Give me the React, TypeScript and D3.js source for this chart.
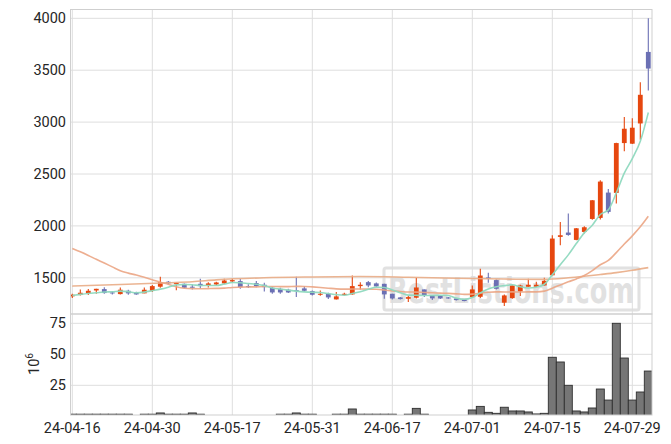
import React from 'react';
import * as d3 from 'd3';

const dates = [
  '24-04-16','24-04-17','24-04-18','24-04-19','24-04-22','24-04-23','24-04-24','24-04-25','24-04-26','24-04-29','24-04-30',
  '24-05-02','24-05-03','24-05-07','24-05-08','24-05-09','24-05-10','24-05-13','24-05-14','24-05-16','24-05-17',
  '24-05-20','24-05-21','24-05-22','24-05-23','24-05-24','24-05-27','24-05-28','24-05-29','24-05-30','24-05-31',
  '24-06-03','24-06-04','24-06-05','24-06-07','24-06-10','24-06-11','24-06-12','24-06-13','24-06-14','24-06-17',
  '24-06-18','24-06-19','24-06-20','24-06-21','24-06-24','24-06-25','24-06-26','24-06-27','24-06-28','24-07-01',
  '24-07-02','24-07-03','24-07-04','24-07-05','24-07-08','24-07-09','24-07-10','24-07-11','24-07-12','24-07-15',
  '24-07-16','24-07-17','24-07-18','24-07-19','24-07-22','24-07-23','24-07-24','24-07-25','24-07-26','24-07-29',
  '24-07-30','24-07-31'
];

const opens = [
  1321,1334,1350,1378,1391,1359,1343,1375,1362,1350,1375,1414,1462,1439,1442,1414,1442,1426,1436,1446,
  1465,1468,1420,1449,1433,1404,1394,1385,1381,1398,1372,1337,1346,1292,1334,1340,1420,1458,1446,1442,
  1346,1311,1298,1308,1388,1334,1330,1311,1301,1292,1314,1317,1503,1478,1260,1304,1369,1414,1414,1426,
  1524,1894,1936,1865,1942,2067,2077,2321,2318,2798,2792,2987,3676
];
const highs = [
  1347,1388,1391,1394,1410,1372,1407,1385,1366,1407,1430,1510,1468,1455,1446,1436,1490,1458,1462,1490,
  1490,1490,1439,1468,1452,1414,1404,1394,1510,1420,1378,1378,1356,1362,1356,1522,1458,1468,1455,1442,
  1346,1314,1330,1500,1388,1334,1334,1314,1304,1295,1426,1587,1548,1484,1340,1426,1433,1490,1462,1500,
  1910,2038,2119,1980,1997,2250,2440,2356,2800,3048,3038,3385,4000
];
const lows = [
  1305,1330,1334,1347,1346,1340,1340,1337,1337,1350,1362,1404,1436,1381,1400,1388,1394,1407,1426,1439,
  1455,1394,1401,1410,1369,1346,1346,1353,1314,1362,1330,1327,1295,1292,1330,1337,1388,1410,1414,1298,
  1292,1292,1266,1301,1314,1285,1295,1298,1282,1273,1308,1305,1452,1388,1228,1298,1324,1414,1414,1426,
  1520,1813,1904,1862,1926,2060,2061,2119,2215,2718,2790,2830,3305
];
const closes = [
  1337,1356,1375,1394,1353,1350,1385,1350,1340,1385,1420,1458,1446,1452,1404,1404,1420,1446,1455,1474,
  1478,1410,1410,1420,1410,1359,1359,1359,1372,1375,1337,1346,1311,1321,1346,1420,1433,1426,1417,1340,
  1301,1295,1314,1407,1334,1301,1301,1301,1285,1276,1388,1522,1490,1394,1330,1426,1426,1433,1433,1471,
  1878,1910,1913,1977,1987,2247,2427,2135,2798,2936,2946,3263,3516
];

// volume in millions (null = no bar drawn)
const volumes: (number | null)[] = [
  1.7,1.7,1.7,1.7,1.7,1.7,1.7,1.7,null,1.7,1.7,2.7,1.7,1.7,1.7,2.7,1.7,null,null,null,
  null,null,null,null,null,null,1.7,1.7,2.7,1.7,1.7,null,null,1.7,1.7,5.9,1.7,1.7,1.7,1.7,
  1.7,null,1.7,6.4,1.7,null,null,null,null,null,5.1,8.0,3.2,2.4,7.3,4.3,4.3,3.5,1.9,2.4,
  47.6,43.8,25.0,4.3,3.5,6.7,22.0,13.1,75.0,47.0,13.1,19.6,36.5
];

const ma5Head = [1330, 1340, 1349, 1356];
const ma20Head = [1782,1750,1715,1678,1642,1605,1568,1545,1527,1505,1482,1458,1437,1414,1400,1396,1395,1396,1398];
const ma60Index = [0, 6, 12, 15, 18, 24, 30, 36, 42, 48, 54, 59, 62, 64, 66, 68, 70, 72];
const ma60Value = [1420, 1435, 1452, 1462, 1480, 1500, 1508, 1512, 1505, 1495, 1488, 1485, 1500, 1515, 1532, 1550, 1572, 1598];

const priceTicks = [1500, 2000, 2500, 3000, 3500, 4000];
const volumeTicks = [25, 50, 75];
const xTickStep = 10;

const W = 671, H = 444;
const LEFT = 70.5, RIGHT = 652;
const PTOP = 9.5, PBOT = 314;
const VTOP = 314, VBOT = 415;

const UP = '#e6470f';
const DOWN = '#6b70b4';
const GRID = '#dedede';
const FRAME = '#cfcfcf';
const TXT = '#262626';
const FONT = 'Roboto, "Noto Sans", sans-serif';

function rolling(vals: number[], n: number, head: number[]): number[] {
  return vals.map((_, i) => {
    if (i < n - 1) return head[i];
    return d3.mean(vals.slice(i - n + 1, i + 1)) as number;
  });
}

export default function App() {
  const x = d3.scaleLinear().domain([0, dates.length - 1]).range([72.3, 648.3]);
  const y = d3.scaleLinear().domain([1500, 4000]).range([277.8, 18.3]);
  const yv = d3.scaleLinear().domain([0, 75]).range([416.3, 323.3]);

  const ma5 = rolling(closes, 5, ma5Head);
  const ma20 = rolling(closes, 20, ma20Head);

  const line = d3.line<[number, number]>()
    .x(d => x(d[0]))
    .y(d => y(d[1]))
    .curve(d3.curveMonotoneX);

  const ma5Path = line(ma5.map((v, i) => [i, v] as [number, number])) || '';
  const ma20Path = line(ma20.map((v, i) => [i, v] as [number, number])) || '';
  const ma60Path = line(ma60Index.map((k, j) => [k, ma60Value[j]] as [number, number])) || '';

  const xTicks = d3.range(0, dates.length, xTickStep);
  const bodyW = 4.8;

  return (
    <svg width={W} height={H} style={{ position: 'fixed', left: 0, top: 0, background: '#fff' }}
      fontFamily={FONT}>
      <defs>
        <clipPath id="pclip"><rect x={LEFT} y={PTOP} width={RIGHT - LEFT} height={PBOT - PTOP} /></clipPath>
        <clipPath id="vclip"><rect x={LEFT} y={VTOP} width={RIGHT - LEFT} height={VBOT - VTOP} /></clipPath>
      </defs>
      <rect x={0} y={0} width={W} height={H} fill="#fff" />

      {/* grids */}
      {xTicks.map(i => (
        <line key={'vx' + i} x1={x(i)} x2={x(i)} y1={PTOP} y2={VBOT} stroke={GRID} strokeWidth={1} />
      ))}
      {priceTicks.map(t => (
        <line key={'py' + t} x1={LEFT} x2={RIGHT} y1={y(t)} y2={y(t)} stroke={GRID} strokeWidth={1} />
      ))}
      {volumeTicks.map(t => (
        <line key={'vy' + t} x1={LEFT} x2={RIGHT} y1={yv(t)} y2={yv(t)} stroke={GRID} strokeWidth={1} />
      ))}

      {/* watermark */}
      <g opacity={0.85}>
        <rect x={384} y={268} width={255} height={42} rx={2} fill="none" stroke="#dcdcdc" strokeWidth={3} />
        <text x={511} y={303} textAnchor="middle" fontSize={36} fontWeight="bold" fill="#dcdcdc"
          fontFamily='"DejaVu Sans", sans-serif' textLength={246} lengthAdjust="spacingAndGlyphs">BestListions.com</text>
      </g>

      {/* candles */}
      <g clipPath="url(#pclip)">
        {closes.map((c, i) => {
          const o = opens[i];
          const up = c >= o;
          const col = up ? UP : DOWN;
          const top = y(Math.max(o, c));
          const bot = y(Math.min(o, c));
          return (
            <g key={'c' + i}>
              <line x1={x(i)} x2={x(i)} y1={y(highs[i])} y2={y(lows[i])} stroke={col} strokeWidth={1.1} />
              <rect x={x(i) - bodyW / 2} y={top} width={bodyW} height={Math.max(1, bot - top)} fill={col} />
            </g>
          );
        })}
        <path d={ma60Path} fill="none" stroke="#e9ac86" strokeWidth={1.6} opacity={0.9} />
        <path d={ma20Path} fill="none" stroke="#eba584" strokeWidth={1.6} opacity={0.9} />
        <path d={ma5Path} fill="none" stroke="#8fd9bf" strokeWidth={1.6} opacity={0.95} />
      </g>

      {/* volume */}
      <g clipPath="url(#vclip)">
        {volumes.map((v, i) => v == null ? null : (
          <rect key={'v' + i} x={x(i) - 4} y={yv(v)} width={8} height={VBOT + 2 - yv(v)}
            fill="#767676" stroke="#2e2e2e" strokeWidth={0.9} />
        ))}
      </g>

      {/* frames */}
      <rect x={LEFT} y={PTOP} width={RIGHT - LEFT} height={PBOT - PTOP} fill="none" stroke={FRAME} strokeWidth={1} />
      <rect x={LEFT} y={VTOP} width={RIGHT - LEFT} height={VBOT - VTOP} fill="none" stroke={FRAME} strokeWidth={1} />

      {/* axis labels */}
      {priceTicks.map(t => (
        <text key={'pl' + t} x={66} y={y(t)} dy="0.35em" textAnchor="end" fontSize={14.5} fill={TXT}>{t}</text>
      ))}
      {volumeTicks.map(t => (
        <text key={'vl' + t} x={66} y={yv(t)} dy="0.35em" textAnchor="end" fontSize={14.5} fill={TXT}>{t}</text>
      ))}
      {xTicks.map(i => (
        <text key={'xl' + i} x={x(i)} y={432.5} textAnchor="middle" fontSize={14.5} fill={TXT}>{dates[i]}</text>
      ))}
      <text transform="translate(39,364) rotate(-90)" textAnchor="middle" fontSize={14.5} fill={TXT}>
        10<tspan dy={-6} fontSize={10}>6</tspan>
      </text>
    </svg>
  );
}
